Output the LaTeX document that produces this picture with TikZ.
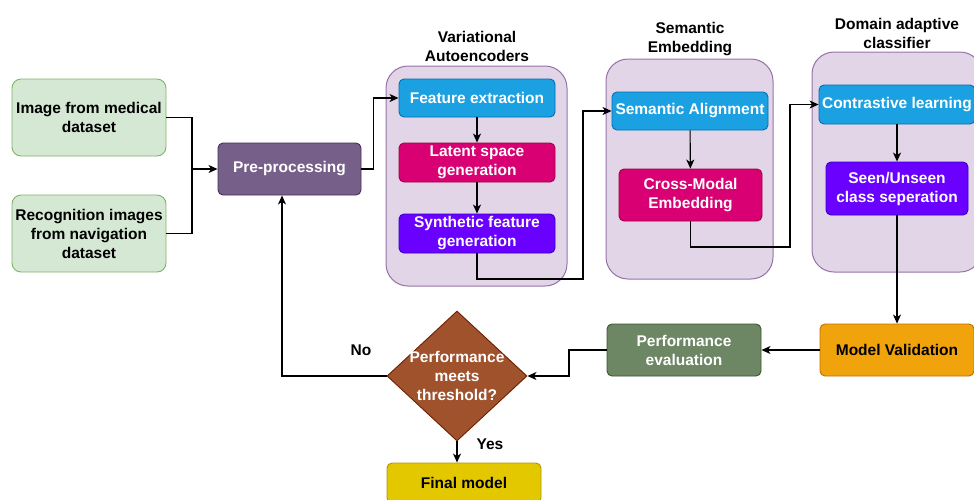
\documentclass[tikz,border=0pt]{standalone}
\usepackage{fontspec}
\setmainfont{Liberation Sans}
\usetikzlibrary{shapes.geometric,arrows.meta}
\definecolor{gfill}{HTML}{D5E8D4}\definecolor{gline}{HTML}{82B366}
\definecolor{pfill}{HTML}{76608A}\definecolor{pline}{HTML}{432D57}
\definecolor{cfill}{HTML}{E1D5E7}\definecolor{cline}{HTML}{9673A6}
\definecolor{bfill}{HTML}{1BA1E2}\definecolor{bline}{HTML}{006EAF}
\definecolor{mfill}{HTML}{D80073}\definecolor{mline}{HTML}{A50040}
\definecolor{vfill}{HTML}{6A00FF}\definecolor{vline}{HTML}{3700CC}
\definecolor{ofill}{HTML}{F0A30A}\definecolor{oline}{HTML}{BD7000}
\definecolor{efill}{HTML}{6D8764}\definecolor{eline}{HTML}{3A5431}
\definecolor{rfill}{HTML}{A0522D}\definecolor{rline}{HTML}{6D1F00}
\definecolor{yfill}{HTML}{E3C800}\definecolor{yline}{HTML}{B09500}
\begin{document}
\begin{tikzpicture}[x=1pt,y=-1pt,
  txt/.style={font=\fontsize{15.5}{19}\selectfont\bfseries, align=center},
  box/.style={txt, draw, rounded corners=5pt, line width=0.9pt, inner sep=0pt},
  cont/.style={draw=cline, fill=cfill, rounded corners=22pt, line width=1pt, inner sep=0pt},
  gbox/.style={box, fill=gfill, draw=gline, text=black, rounded corners=9pt},
  pbox/.style={box, fill=pfill, draw=pline, text=white},
  bbox/.style={box, fill=bfill, draw=bline, text=white},
  mbox/.style={box, fill=mfill, draw=mline, text=white},
  vbox/.style={box, fill=vfill, draw=vline, text=white},
  obox/.style={box, fill=ofill, draw=oline, text=black},
  ebox/.style={box, fill=efill, draw=eline, text=white},
  ybox/.style={box, fill=yfill, draw=yline, text=black},
  arr/.style={line width=1.1pt, -{Stealth[length=9pt,width=8pt,inset=2.5pt]}},
  ln/.style={line width=1.1pt}]
\useasboundingbox (0,0) rectangle (974,499);
% containers
\node[cont, minimum width=181pt, minimum height=220pt] (vae) at (476.5,176) {};
\node[cont, minimum width=167pt, minimum height=220pt] (sem) at (689.5,169) {};
\node[cont, minimum width=170pt, minimum height=220pt] (dom) at (897,162) {};
\node[txt] (vaet) at (477,46.5) {Variational\\Autoencoders};
\node[txt] (semt) at (690,39.5) {Semantic\\Embedding};
\node[txt] (domt) at (897,33) {Domain adaptive\\classifier};
% boxes
\node[gbox, minimum width=154pt, minimum height=77pt] (g1) at (89,117.5) {Image from medical\\dataset};
\node[gbox, minimum width=154pt, minimum height=77pt] (g2) at (89,233.5) {Recognition images\\from navigation\\dataset};
\node[pbox, minimum width=143pt, minimum height=52pt] (pre) at (289.5,169) {Pre-processing};
\node[bbox, minimum width=156pt, minimum height=38pt] (feat) at (477,98) {Feature extraction};
\node[mbox, minimum width=156pt, minimum height=39pt] (lat) at (477,162.5) {Latent space\\generation};
\node[vbox, minimum width=156pt, minimum height=39pt] (syn) at (477,233.5) {Synthetic feature\\generation};
\node[bbox, minimum width=156pt, minimum height=38pt] (sal) at (690,111) {Semantic Alignment};
\node[mbox, minimum width=143pt, minimum height=52pt] (cross) at (690.5,195) {Cross-Modal\\Embedding};
\node[bbox, minimum width=156pt, minimum height=39pt] (con) at (897,104.5) {Contrastive learning};
\node[vbox, minimum width=142pt, minimum height=53pt] (seen) at (897,188.5) {Seen/Unseen\\class seperation};
\node[obox, minimum width=154pt, minimum height=52pt] (mv) at (897,350) {Model Validation};
\node[ebox, minimum width=154pt, minimum height=52pt] (perf) at (684,350) {Performance\\evaluation};
\node[draw=rline, fill=rfill, shape=diamond, minimum width=140pt, minimum height=130pt, inner sep=0pt, line width=0.9pt] (dia) at (457,376) {};
\node[txt, text=white] (diat) at (dia.center) {Performance\\meets\\threshold?};
\node[ybox, minimum width=154pt, minimum height=40pt] (fin) at (464,483) {Final model};
\node[txt] (no) at (361,350) {No};
\node[txt] (yes) at (490,444) {Yes};
% junctions
\coordinate (j) at (192,169);
\coordinate (c1) at (583,279);
\coordinate (c2) at (790,247);
\coordinate (c3) at (569,350);
\coordinate (c4) at (282,376);
% connectors
\draw[ln] (g1.east) -| (j);
\draw[ln] (g2.east) -| (j);
\draw[arr] (j) -- (pre.west);
\draw[arr] (pre.east) -- ++(12,0) |- (feat.west);
\draw[arr] (feat) -- (lat);
\draw[arr] (lat) -- (syn);
\draw[arr] (syn.south) |- (c1) |- (sal.west);
\draw[arr] (sal) -- (cross);
\draw[arr] (cross.south) |- (c2) |- (con.west);
\draw[arr] (con) -- (seen);
\draw[arr] (seen) -- (mv);
\draw[arr] (mv) -- (perf);
\draw[arr] (perf.west) -- (c3) |- (dia.east);
\draw[arr] (dia.west) -- (c4) -- (c4 |- pre.south);
\draw[arr] (dia.south) -- (dia.south |- fin.north);
\end{tikzpicture}
\end{document}
